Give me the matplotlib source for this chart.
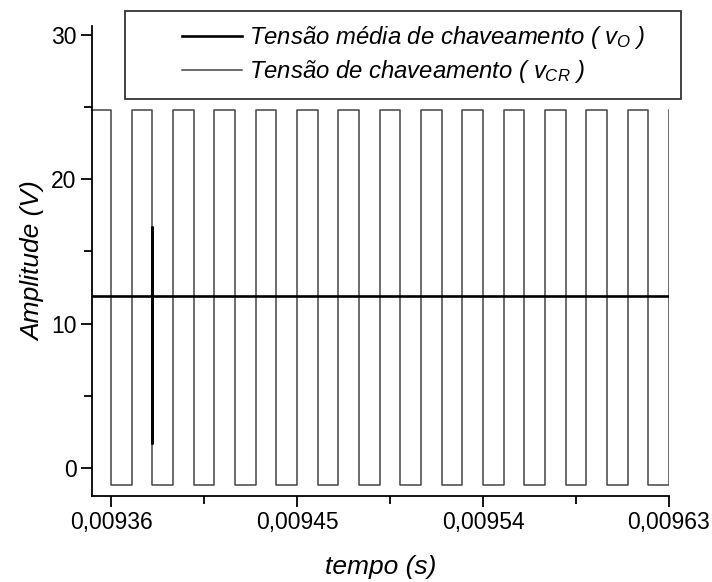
"""Tensão de chaveamento vs. tensão média (vO, vCR)."""

import matplotlib
matplotlib.use("Agg")
import matplotlib.pyplot as plt
from matplotlib.patches import Rectangle

plt.rcParams["font.family"] = ["Liberation Sans", "DejaVu Sans"]
plt.rcParams["mathtext.fontset"] = "custom"
plt.rcParams["mathtext.it"] = "Liberation Sans:italic"
plt.rcParams["mathtext.rm"] = "Liberation Sans"

# switching voltage vCR: transition instants (s) and level after each one (V)
t_cr = [0.0093508, 0.00936, 0.00937, 0.00938, 0.00939, 0.00940, 0.00941,
        0.00942, 0.00943, 0.00944, 0.00945, 0.00946, 0.00947, 0.00948,
        0.00949, 0.00950, 0.00951, 0.00952, 0.00953, 0.00954, 0.00955,
        0.00956, 0.00957, 0.00958, 0.00959, 0.00960, 0.00961, 0.00962,
        0.00963]
v_cr = [24.8, -1.2, 24.8, -1.2, 24.8, -1.2, 24.8,
        -1.2, 24.8, -1.2, 24.8, -1.2, 24.8, -1.2,
        24.8, -1.2, 24.8, -1.2, 24.8, -1.2, 24.8,
        -1.2, 24.8, -1.2, 24.8, -1.2, 24.8, -1.2,
        24.8]

# mean voltage vO (with the small spike near 0.00938 s)
t_o = [0.0093508, 0.00938, 0.00938, 0.00938, 0.00938, 0.00963]
v_o = [11.9, 11.9, 16.7, 1.7, 11.9, 11.9]

xticks = [0.00936, 0.00945, 0.00954, 0.00963]
xtick_labels = ["0,00936", "0,00945", "0,00954", "0,00963"]
xminor = [0.009405, 0.009495, 0.009585]
yticks = [0, 10, 20, 30]
yminor = [5, 15, 25]

labels = [r"Tensão média de chaveamento ( $v_{O}$ )",
          r"Tensão de chaveamento ( $v_{CR}$ )"]

fig = plt.figure(figsize=(7.12, 5.82), dpi=100)
ax = fig.add_axes([0.1292, 0.1478, 0.8104, 0.8075])

l_o, = ax.plot(t_o, v_o, color="black", lw=1.9, zorder=3)
l_cr, = ax.step(t_cr, v_cr, where="post", color="#444444", lw=1.1, zorder=2)

ax.set_xlim(0.0093508, 0.00963)
ax.set_ylim(-1.95, 30.63)

ax.set_xticks(xticks)
ax.set_xticklabels(xtick_labels)
ax.set_xticks(xminor, minor=True)
ax.set_yticks(yticks)
ax.set_yticks(yminor, minor=True)

for side in ["top", "right"]:
    ax.spines[side].set_visible(False)
for side in ["left", "bottom"]:
    ax.spines[side].set_linewidth(1.3)

ax.tick_params(which="major", direction="out", length=8, width=1.3,
               labelsize=16.5, pad=3)
ax.tick_params(which="minor", direction="out", length=6, width=1.3)

ax.set_xlabel("tempo (s)", fontsize=19, style="italic", labelpad=15)
ax.set_ylabel("Amplitude (V)", fontsize=19, style="italic", labelpad=4)

leg = ax.legend([l_o, l_cr], labels, loc="upper left",
                bbox_to_anchor=(0.14, 1.024), frameon=False,
                prop={"size": 17.2, "style": "italic"}, handlelength=2.5,
                handletextpad=0.3, labelspacing=0.3, borderaxespad=0)
ax.add_patch(Rectangle((0.057, 0.845), 0.964, 0.187, transform=ax.transAxes,
                       fill=True, facecolor="white", edgecolor="#333333",
                       lw=1.3, clip_on=False, zorder=4))
leg.set_zorder(5)

fig.savefig("out.png", dpi=100)
